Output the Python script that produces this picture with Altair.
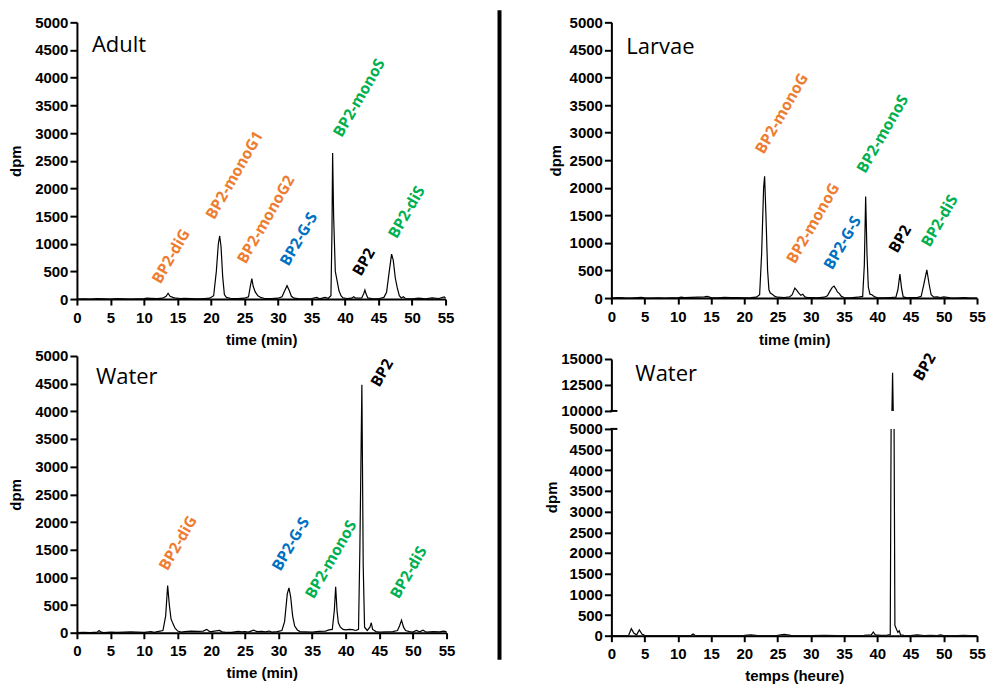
import altair as alt
import pandas as pd

# ---------------- data ----------------
ORANGE = "#ED7D31"
BLUE = "#0070C0"
GREEN = "#00B050"
BLACK = "#000000"

adult_t = [0, 1, 2, 3, 4, 5, 6, 7, 8, 9, 10, 10.5, 11, 12, 12.8, 13.3, 13.6, 13.9, 14.3, 14.8,
           15.5, 16, 17, 18, 19, 19.8, 20.4, 20.8, 21.1, 21.3, 21.5, 21.75, 22.0, 22.3, 23, 24, 25,
           25.6, 25.9, 26.1, 26.3, 26.6, 27.0, 27.5, 28, 29, 30, 30.6, 31.0, 31.35, 31.7, 32.0,
           32.4, 33, 34, 35, 35.8, 36.2, 37, 37.5, 37.9, 38.05, 38.15, 38.3, 38.55, 38.8, 39.1,
           39.4, 39.7, 40.3, 41, 41.3, 41.6, 42.5, 42.8, 42.97, 43.15, 43.4, 44, 45, 45.8, 46.2,
           46.6, 46.95, 47.2, 47.5, 47.8, 48.1, 48.4, 48.7, 49, 50, 51, 52, 53, 54, 54.8, 55]
adult_v = [0, 5, 0, 8, 3, 0, 6, 2, 0, 5, 10, 15, 12, 8, 15, 50, 105, 50, 30, 15,
           10, 12, 8, 5, 10, 15, 60, 500, 1000, 1140, 950, 400, 80, 30, 10, 8, 15,
           40, 250, 370, 230, 130, 60, 25, 10, 8, 15, 40, 150, 240, 150, 50,
           15, 10, 5, 10, 30, 5, 30, 15, 60, 1200, 2640, 1500, 500, 340, 150,
           60, 20, 10, 15, 40, 15, 20, 100, 162, 90, 20, 10, 5, 30, 120,
           500, 812, 700, 380, 200, 60, 20, 40, 10, 5, 15, 5, 20, 10, 40, 20]

larvae_t = [0, 1, 2, 3, 4, 4.5, 5, 6, 7, 8, 9, 10, 10.5, 11, 12, 13, 14, 14.4, 15, 16, 17, 18,
            19, 20, 21, 21.8, 22.3, 22.6, 22.9, 23.05, 23.25, 23.5, 23.7, 23.9, 24.2, 24.6, 25,
            26, 26.8, 27.2, 27.6, 27.9, 28.2, 28.5, 28.8, 29.1, 29.5, 30, 31, 32, 32.5, 32.9,
            33.2, 33.5, 33.8, 34.0, 34.3, 34.6, 35, 36, 37, 37.8, 38.05, 38.25, 38.45, 38.65,
            38.9, 39.2, 39.6, 40, 41, 42, 42.8, 43.1, 43.4, 43.65, 43.9, 44.5, 45, 46, 46.6,
            47.0, 47.45, 47.8, 48.1, 48.5, 49, 49.5, 50, 51, 52, 53, 53.5, 54, 55]
larvae_v = [0, 10, 3, 0, 8, 12, 3, 0, 5, 0, 3, 5, 15, 10, 12, 15, 20, 30, 8, 3, 12, 8,
            10, 5, 8, 15, 60, 800, 2000, 2210, 1500, 500, 150, 90, 70, 30, 15,
            10, 20, 60, 180, 140, 90, 50, 70, 20, 10, 8, 5, 15, 40, 130,
            190, 217, 160, 110, 80, 30, 10, 5, 15, 30, 600, 1840, 800, 200,
            70, 60, 20, 10, 5, 10, 15, 150, 435, 180, 20, 5, 10, 8, 30,
            250, 513, 250, 60, 15, 20, 10, 20, 5, 0, 10, 5, 0, 0]

water_t = [0, 1, 2, 3, 3.3, 3.6, 4, 5, 6, 7, 8, 9, 10, 11, 11.5, 12, 12.8, 13.2, 13.5, 13.75,
           14.0, 14.3, 14.6, 15, 15.5, 16, 17, 18, 18.8, 19.3, 19.7, 20, 21.2, 21.6, 22, 23, 24,
           24.5, 25, 25.5, 26.3, 26.8, 27.5, 28, 28.6, 29, 29.8, 30.5, 30.9, 31.3, 31.55, 31.8,
           32.1, 32.4, 32.8, 33.2, 34, 35, 36, 37, 37.5, 38, 38.3, 38.5, 38.7, 38.9, 39.2, 39.6,
           40, 40.5, 41, 41.5, 41.9, 42.1, 42.4, 42.6, 42.8, 43.2, 43.6, 43.8, 44.0, 44.5, 45,
           46, 47, 47.7, 48.0, 48.3, 48.6, 48.9, 49.5, 50, 50.5, 51, 51.5, 52, 53, 54, 54.5, 55]
water_v = [0, 5, 0, 10, 40, 10, 0, 10, 5, 10, 15, 10, 5, 20, 5, 20, 40, 300, 853, 500,
           250, 160, 80, 30, 10, 20, 30, 25, 30, 60, 25, 20, 40, 15, 10, 5, 25,
           15, 20, 10, 45, 20, 25, 15, 30, 10, 20, 40, 200, 700, 811, 650,
           300, 120, 50, 20, 15, 10, 25, 30, 50, 60, 400, 829, 400, 180, 100, 60,
           50, 60, 55, 40, 60, 1500, 4480, 1200, 100, 40, 100, 180, 60, 20, 10,
           15, 20, 40, 120, 227, 100, 40, 20, 10, 40, 15, 45, 10, 20, 15, 30, 20]

water2_t = [0, 1, 2, 2.6, 3.0, 3.4, 3.8, 4.2, 4.6, 5, 6, 7, 8, 9, 10, 11, 12, 12.3, 12.6, 14,
            16, 18, 20, 21, 22, 24, 25, 26, 27, 28, 30, 32, 34, 36, 38, 39.1, 39.4, 39.7, 40.5,
            41.5, 41.95, 42.3, 42.65, 42.9, 43.1, 43.3, 43.5, 44, 45, 46, 47, 48, 49, 49.5, 50,
            52, 53, 54, 55]
water2_v = [0, 5, 0, 10, 170, 60, 20, 140, 40, 10, 0, 5, 0, 5, 0, 5, 10, 40, 5, 0,
            5, 0, 10, 20, 0, 5, 10, 30, 10, 5, 0, 10, 5, 0, 10, 20, 90, 20, 10,
            15, 30, 13680, 250, 150, 80, 120, 20, 10, 5, 20, 5, 10, 5, 20, 5,
            0, 10, 5, 0]

x_ticks = [0, 5, 10, 15, 20, 25, 30, 35, 40, 45, 50, 55]
y_ticks = [0, 500, 1000, 1500, 2000, 2500, 3000, 3500, 4000, 4500, 5000]
y_ticks_top = [10000, 12500, 15000]

adult_lab = ["BP2-diG", "BP2-monoG1", "BP2-monoG2", "BP2-G-S", "BP2-monoS", "BP2", "BP2-diS"]
adult_lab_t = [11.9, 19.9, 24.6, 31.0, 38.95, 41.8, 47.15]
adult_lab_v = [175, 1336, 536, 493, 2821, 312, 993]
adult_lab_c = [ORANGE, ORANGE, ORANGE, BLUE, GREEN, BLACK, GREEN]

larvae_lab = ["BP2-monoG", "BP2-monoG", "BP2-G-S", "BP2-monoS", "BP2", "BP2-diS"]
larvae_lab_t = [22.33, 27.04, 32.65, 37.6, 42.43, 47.3]
larvae_lab_v = [2511, 518, 409, 2161, 712, 821]
larvae_lab_c = [ORANGE, ORANGE, BLUE, GREEN, BLACK, GREEN]

water_lab = ["BP2-diG", "BP2-G-S", "BP2-monoS", "BP2", "BP2-diS"]
water_lab_t = [12.9, 29.7, 34.65, 44.4, 47.3]
water_lab_v = [1020, 1010, 510, 4338, 510]
water_lab_c = [ORANGE, BLUE, GREEN, BLACK, GREEN]

water2_lab = ["BP2"]
water2_lab_t = [46.1]
water2_lab_v = [12323]
water2_lab_c = [BLACK]

panel_names = ["Adult", "Larvae", "Water", "Water"]

# ---------------- styling helpers ----------------
AX_FONT = "Liberation Sans"
LAB_FONT = "Open Sans"
W = 369
WR = 366
H = 277
ANGLE = 300


def x_axis(title, tpad=7):
    if title is None:
        return None
    return alt.Axis(values=x_ticks, title=title, titlePadding=tpad, format="d")


def y_axis(values, title, tpad, **kw):
    return alt.Axis(values=values, title=title, titlePadding=tpad, format="d", **kw)


def enc_xy(ydomain, xaxis, yaxis):
    x = alt.X("t:Q", scale=alt.Scale(domain=[0, 55], nice=False, zero=False), axis=xaxis)
    y = alt.Y("dpm:Q", scale=alt.Scale(domain=ydomain, nice=False, zero=False), axis=yaxis)
    return x, y


def line_layer(t, v, ydomain, xaxis, yaxis, clip=False):
    df = pd.DataFrame({"t": t, "dpm": v})
    x, y = enc_xy(ydomain, xaxis, yaxis)
    return alt.Chart(df).mark_line(color="black", strokeWidth=1.2, clip=clip).encode(x=x, y=y)


def label_layer(labs, lt, lv, lc, ydomain, xaxis, yaxis):
    df = pd.DataFrame({"label": labs, "t": lt, "dpm": lv, "c": lc})
    x, y = enc_xy(ydomain, xaxis, yaxis)
    return alt.Chart(df).mark_text(
        angle=ANGLE, align="left", baseline="alphabetic", font=LAB_FONT,
        fontWeight="bold", fontSize=15.5, dx=6, dy=1,
    ).encode(x=x, y=y, text="label:N", color=alt.Color("c:N", scale=None))


def name_layer(name, px, py):
    df = pd.DataFrame({"name": [name]})
    return alt.Chart(df).mark_text(
        align="left", baseline="alphabetic", font=LAB_FONT, fontSize=22, color="black"
    ).encode(text="name:N", x=alt.value(px), y=alt.value(py))


def brk_layer(val, ydomain, yaxis):
    df = pd.DataFrame({"dpm": [val]})
    y = alt.Y("dpm:Q", scale=alt.Scale(domain=ydomain, nice=False, zero=False), axis=yaxis)
    return alt.Chart(df).mark_rule(color="black", strokeWidth=2).encode(
        y=y, x=alt.value(-1), x2=alt.value(6))


def panel(t, v, labs, lt, lv, lc, name, npos, w, h, xtitle, ytitle, ytpad,
          ydomain=(0, 5000), yvals=y_ticks, xtpad=7, clip=False, brk=None, **ykw):
    xa = x_axis(xtitle, xtpad)
    ya = y_axis(yvals, ytitle, ytpad, **ykw)
    yd = list(ydomain)
    layers = [line_layer(t, v, yd, xa, ya, clip=clip)]
    if labs:
        layers.append(label_layer(labs, lt, lv, lc, yd, xa, ya))
    if name:
        layers.append(name_layer(name, npos[0], npos[1]))
    if brk is not None:
        layers.append(brk_layer(brk, yd, ya))
    return alt.layer(*layers).properties(width=w, height=h)


adult = panel(adult_t, adult_v, adult_lab, adult_lab_t, adult_lab_v, adult_lab_c,
              panel_names[0], (15, 30), W, H, "time (min)", "dpm", 11)
water = panel(water_t, water_v, water_lab, water_lab_t, water_lab_v, water_lab_c,
              panel_names[2], (19, 28), W + 1, H, "time (min)", "dpm", 11)
larvae = panel(larvae_t, larvae_v, larvae_lab, larvae_lab_t, larvae_lab_v, larvae_lab_c,
               panel_names[1], (15, 32), WR, H - 1, "time (min)", "dpm", 6, xtpad=8.5)
top4 = panel(water2_t, water2_v, water2_lab, water2_lab_t, water2_lab_v, water2_lab_c,
             panel_names[3], (24, 22), WR, 52, None, None, 10,
             ydomain=(10000, 15000), yvals=y_ticks_top, clip=True, brk=10000)
bottom4 = panel(water2_t, water2_v, None, None, None, None, None, None, WR, 207,
                "temps (heure)", "dpm", 10, clip=True, brk=5000, titleY=68)

divider = alt.Chart(pd.DataFrame({"d": [0]})).mark_rule(color="black", strokeWidth=4).encode(
    x=alt.value(2), y=alt.value(-12), y2=alt.value(638)
).properties(width=4, height=638)

left = alt.vconcat(adult, water, spacing=2)
right = alt.vconcat(larvae, top4, bottom4, spacing=3)

chart = alt.hconcat(left, divider, right, spacing=42).properties(
    padding={"left": 0, "top": 0, "right": 0, "bottom": 0}
).configure_view(stroke=None).configure_axis(
    domainColor="black", domainWidth=2, tickColor="black", tickWidth=2,
    grid=False, labelFont=AX_FONT, labelFontWeight="bold", labelFontSize=15,
    labelColor="black", labelOverlap=False, labelFlush=False,
    titleFont=AX_FONT, titleFontWeight="bold", titleFontSize=15, titleColor="black",
).configure_axisX(tickSize=6, labelPadding=5).configure_axisY(tickSize=7, labelPadding=2)

chart.save("out.html", embed_options={"renderer": "svg", "actions": False})
